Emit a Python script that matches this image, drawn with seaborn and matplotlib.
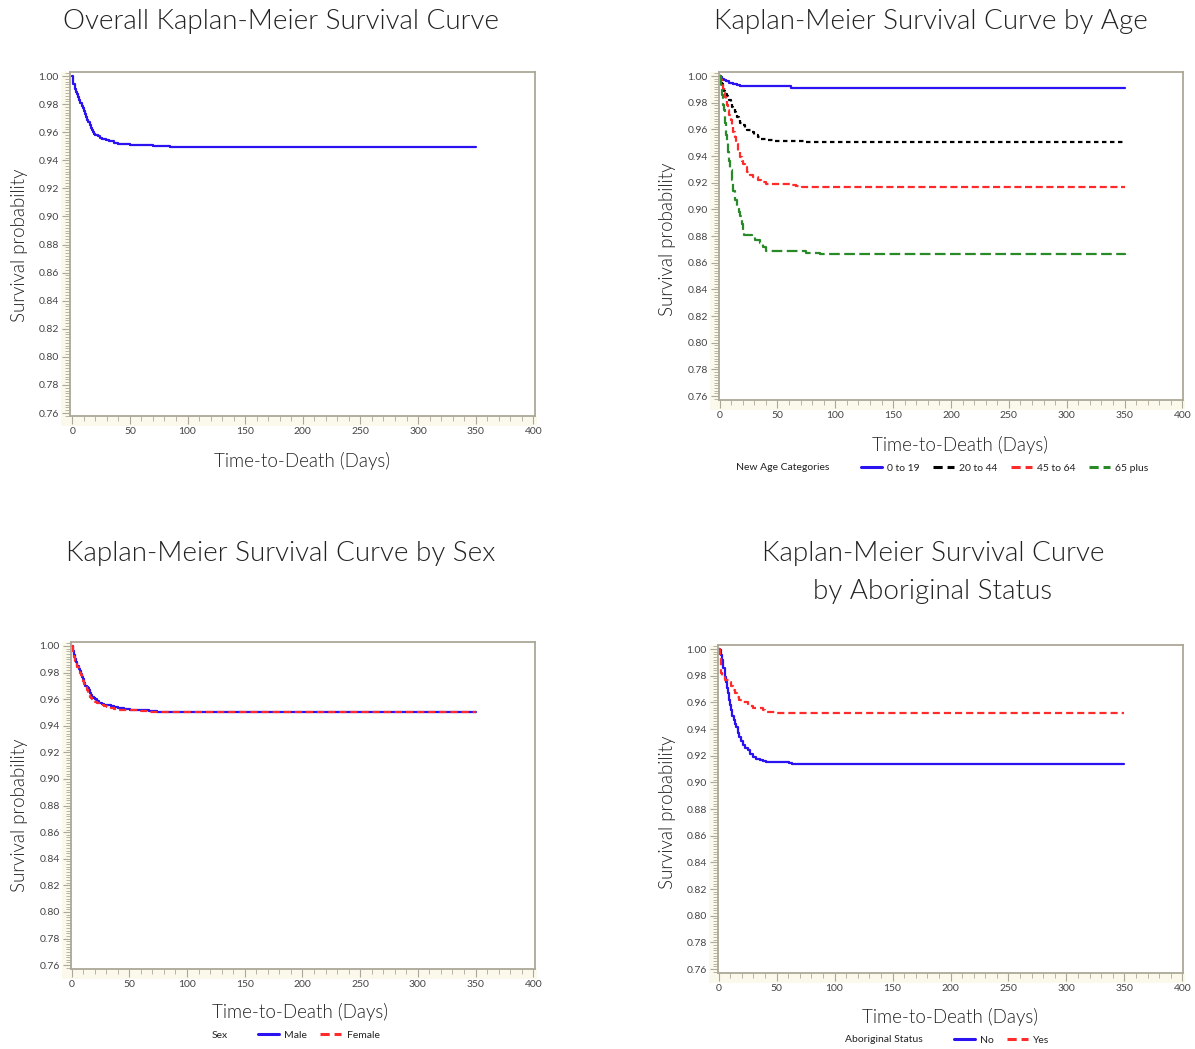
import numpy as np
import pandas as pd
import matplotlib
matplotlib.use("Agg")
import matplotlib.pyplot as plt
from matplotlib.lines import Line2D
from matplotlib.patches import Rectangle
from matplotlib.ticker import MultipleLocator, FormatStrFormatter
from matplotlib import font_manager
import seaborn as sns

# ---------------- data ----------------
overall_t = [0, 0.5, 1, 2, 3, 4, 5, 6, 7, 8, 9, 10, 11, 12, 13, 14, 15, 16, 17, 18, 19, 20,
             22, 24, 26, 29, 32, 36, 40, 45, 50, 60, 70, 85, 350]
overall_s = [1.000, 0.996, 0.994, 0.991, 0.989, 0.987, 0.985, 0.983, 0.981, 0.979, 0.977,
             0.975, 0.973, 0.971, 0.969, 0.967, 0.965, 0.963, 0.9615, 0.960, 0.959, 0.958,
             0.957, 0.956, 0.955, 0.9545, 0.9535, 0.9525, 0.9518, 0.9513, 0.951, 0.9508,
             0.9503, 0.9498, 0.9498]

age_groups = ["0 to 19", "20 to 44", "45 to 64", "65 plus"]
age_0_19_t = [0, 1, 2.3, 4, 5.5, 7, 8.5, 10, 12, 15, 18, 21, 61, 62, 350]
age_0_19_s = [1.000, 0.999, 0.998, 0.997, 0.9965, 0.996, 0.995, 0.9945, 0.994, 0.993,
              0.9926, 0.9922, 0.9922, 0.9913, 0.9913]
age_20_44_t = [0, 1, 2, 3, 4, 5, 6, 7, 8, 9.5, 11, 12, 13, 14, 15, 16.5, 18, 20, 22, 24,
               27, 30, 33, 36, 41, 48, 55, 62, 73, 350]
age_20_44_s = [1.000, 0.997, 0.9943, 0.992, 0.989, 0.9868, 0.985, 0.9835, 0.982, 0.980,
               0.977, 0.975, 0.973, 0.971, 0.969, 0.967, 0.965, 0.963, 0.961, 0.9595,
               0.958, 0.956, 0.9545, 0.953, 0.952, 0.9515, 0.951, 0.951, 0.9504, 0.9504]
age_45_64_t = [0, 1, 2, 3, 4, 4.6, 5.5, 6.5, 7.5, 8.5, 9.5, 10.5, 11.8, 13, 14.5, 16, 17.6,
               19, 20.5, 22, 24, 26, 29, 33, 36, 40.5, 50, 62, 66, 71, 80, 350]
age_45_64_s = [1.000, 0.9967, 0.993, 0.990, 0.987, 0.9843, 0.981, 0.978, 0.9743, 0.971,
               0.967, 0.963, 0.958, 0.954, 0.949, 0.944, 0.9395, 0.9365, 0.934, 0.932,
               0.928, 0.9258, 0.924, 0.922, 0.9205, 0.919, 0.9188, 0.9186, 0.9175, 0.9168,
               0.9165, 0.9165]
age_65_t = [0, 1, 2, 3, 3.5, 4.5, 5.5, 6.3, 7, 8, 9.2, 10.5, 12, 13.5, 15, 16.5, 17.9, 19,
            20, 20.8, 24, 28, 31, 35, 37.5, 39.8, 50, 64, 75, 87, 350]
age_65_s = [1.000, 0.991, 0.9856, 0.978, 0.9743, 0.965, 0.956, 0.9494, 0.943, 0.936,
            0.9295, 0.922, 0.914, 0.907, 0.902, 0.898, 0.8947, 0.889, 0.884, 0.881,
            0.8805, 0.8797, 0.877, 0.8747, 0.872, 0.869, 0.869, 0.8685, 0.8675, 0.8665,
            0.8660]

sex_groups = ["Male", "Female"]
male_t = [0, 1, 2, 3, 4, 5, 6, 7, 8, 9, 10, 11, 12, 13, 14, 15, 16, 17, 18, 19, 20, 22,
          24, 26, 28, 31, 34, 37, 40, 45, 51, 60, 67, 74, 350]
male_s = [1.000, 0.996, 0.993, 0.990, 0.988, 0.985, 0.983, 0.981, 0.979, 0.977, 0.975,
          0.9725, 0.970, 0.969, 0.9685, 0.967, 0.965, 0.963, 0.962, 0.961, 0.960, 0.9585,
          0.9575, 0.9565, 0.956, 0.9555, 0.9548, 0.954, 0.953, 0.9525, 0.952, 0.9515,
          0.951, 0.9505, 0.9502]
female_t = [0, 1, 2, 3, 4, 5, 6, 7, 8, 9, 10, 11, 12, 13, 14, 15, 16, 17, 18, 19, 20, 22,
            24, 26, 28, 31, 34, 37, 40, 45, 51, 60, 67, 74, 350]
female_s = [1.000, 0.995, 0.992, 0.989, 0.987, 0.984, 0.982, 0.980, 0.978, 0.976, 0.974,
            0.9715, 0.969, 0.967, 0.965, 0.9635, 0.962, 0.961, 0.960, 0.959, 0.958, 0.957,
            0.956, 0.9555, 0.955, 0.954, 0.9533, 0.9528, 0.9522, 0.952, 0.9518, 0.9512,
            0.9506, 0.9502, 0.9500]

abor_groups = ["No", "Yes"]
abor_no_t = [0, 1, 2.3, 3, 4, 5.2, 6, 7, 8, 9, 10, 11, 12, 13, 13.9, 15, 16.7, 18, 19.5,
             21, 23, 25.4, 27.5, 29.7, 32, 35.5, 38, 41, 61, 63, 350]
abor_no_s = [1.000, 0.999, 0.9955, 0.992, 0.986, 0.979, 0.975, 0.971, 0.9668, 0.962,
             0.958, 0.954, 0.950, 0.947, 0.944, 0.9415, 0.9368, 0.934, 0.931, 0.928,
             0.926, 0.924, 0.9215, 0.919, 0.9178, 0.9168, 0.916, 0.915, 0.9148, 0.914,
             0.914]
abor_yes_t = [0, 1, 1.7, 2.3, 3, 5.2, 9.5, 11, 12.5, 14, 16, 18, 20, 25.4, 30, 35.5, 38,
              40, 50, 60, 350]
abor_yes_s = [1.000, 0.994, 0.988, 0.982, 0.979, 0.9768, 0.9755, 0.972, 0.969, 0.9668,
              0.964, 0.962, 0.960, 0.957, 0.956, 0.9555, 0.954, 0.9525, 0.9522, 0.952,
              0.9518]

x_ticks = [0, 50, 100, 150, 200, 250, 300, 350, 400]
y_ticks = [0.76, 0.78, 0.80, 0.82, 0.84, 0.86, 0.88, 0.90, 0.92, 0.94, 0.96, 0.98, 1.00]

# ---------------- style ----------------
sns.set_theme(style="white")
plt.rcParams["font.family"] = ["Lato", "DejaVu Sans"]

BLUE = "#2B12F0"
RED = "#FF2A2A"
BLACK = "#000000"
GREEN = "#2A8A2A"
SPINE = "#ABA898"
BEIGE = "#FBF8EC"
TXT = "#222222"

# pick Lato Light (weight 300) if installed, else regular
_weights = sorted({f.weight for f in font_manager.fontManager.ttflist if f.name == "Lato"},
                  key=lambda w: str(w))
TITLE_W = 300 if 300 in _weights or "light" in [str(w).lower() for w in _weights] else "normal"

W, H = 1195, 1049
fig = plt.figure(figsize=(W / 100, H / 100), dpi=100)


def make_axes(left, top, right, bottom):
    return fig.add_axes([left / W, 1 - bottom / H, (right - left) / W, (bottom - top) / H])


def style_axes(ax, xlim, ylim):
    ax.set_xlim(*xlim)
    ax.set_ylim(*ylim)
    ax.xaxis.set_major_locator(plt.FixedLocator(x_ticks))
    ax.yaxis.set_major_locator(plt.FixedLocator(y_ticks))
    ax.xaxis.set_minor_locator(MultipleLocator(10))
    ax.yaxis.set_minor_locator(MultipleLocator(0.002))
    ax.yaxis.set_major_formatter(FormatStrFormatter("%.2f"))
    ax.tick_params(axis="both", which="major", direction="out", length=6, width=0.8,
                   color=SPINE, labelsize=7.5, labelcolor="#444444", pad=2)
    ax.tick_params(axis="both", which="minor", direction="out", length=3.5, width=0.6,
                   color=SPINE)
    ax.tick_params(axis="x", which="both", bottom=True)
    ax.tick_params(axis="y", which="both", left=True)
    for sp in ax.spines.values():
        sp.set_color(SPINE)
        sp.set_linewidth(1.3)
    ax.set_xlabel("")
    ax.set_ylabel("")
    ax.add_patch(Rectangle((0, -0.03), 1.004, 0.03, transform=ax.transAxes,
                           facecolor=BEIGE, edgecolor="none", clip_on=False, zorder=-1))
    ax.add_patch(Rectangle((-0.02, -0.03), 0.02, 1.03, transform=ax.transAxes,
                           facecolor=BEIGE, edgecolor="none", clip_on=False, zorder=-1))


def build_df(groups, ts, ss):
    rows = []
    for g, t, s in zip(groups, ts, ss):
        for ti, si in zip(t, s):
            rows.append((g, ti, si))
    return pd.DataFrame(rows, columns=["group", "time", "surv"])


def draw(ax, df, palette, dashes, lw=1.6):
    for g in df["group"].unique():
        sub = df[df["group"] == g]
        sns.lineplot(data=sub, x="time", y="surv", ax=ax, color=palette[g],
                     drawstyle="steps-post", linewidth=lw, legend=False,
                     dashes=False, estimator=None, sort=False,
                     linestyle=(0, dashes[g]) if dashes[g] else "-")


def legend_row(title, tx, ty, handles, labels, lx):
    fig.text(tx / W, 1 - ty / H, title, fontsize=7.5, color=TXT, va="center", ha="center")
    fig.legend(handles, labels, loc="center left", bbox_to_anchor=(lx / W, 1 - ty / H),
               ncol=len(labels), frameon=False, fontsize=7.5, handlelength=2.0,
               handletextpad=0.5, columnspacing=1.3, borderaxespad=0, borderpad=0,
               labelcolor=TXT)


def title(x, y, s):
    fig.text(x / W, 1 - y / H, s, fontsize=20, ha="center", va="center", color=TXT,
             fontweight=TITLE_W)


def ylab(x, y):
    fig.text(x / W, 1 - y / H, "Survival probability", rotation=90, fontsize=13.5,
             ha="center", va="center", color=TXT, fontweight=TITLE_W)


def xlab(x, y):
    fig.text(x / W, 1 - y / H, "Time-to-Death (Days)", fontsize=13.5,
             ha="center", va="center", color=TXT, fontweight=TITLE_W)


# ---------------- panel 1: overall ----------------
ax1 = make_axes(70, 72, 535, 416)
df1 = build_df(["all"], [overall_t], [overall_s])
draw(ax1, df1, {"all": BLUE}, {"all": None})
style_axes(ax1, (-2, 401.5), (0.7579, 1.0029))
title(281, 21, "Overall Kaplan-Meier Survival Curve")
ylab(20, 245)
xlab(302, 461)

# ---------------- panel 2: age ----------------
ax2 = make_axes(719, 72, 1183, 400)
df2 = build_df(age_groups, [age_0_19_t, age_20_44_t, age_45_64_t, age_65_t],
               [age_0_19_s, age_20_44_s, age_45_64_s, age_65_s])
pal2 = dict(zip(age_groups, [BLUE, BLACK, RED, GREEN]))
dash2 = dict(zip(age_groups, [None, (2.0, 1.6), (3.2, 1.6), (4.8, 2.0)]))
draw(ax2, df2, pal2, dash2)
style_axes(ax2, (-0.5, 400.5), (0.757, 1.003))
title(931, 21, "Kaplan-Meier Survival Curve by Age")
ylab(668, 239)
xlab(960, 445)
h2 = [Line2D([], [], color=pal2[g], lw=2.2,
             linestyle=(0, (3.0, 1.6)) if dash2[g] else "-") for g in age_groups]
legend_row("New Age Categories", 783, 468, h2, age_groups, 861)

# ---------------- panel 3: sex ----------------
ax3 = make_axes(71, 642, 535, 969)
df3 = build_df(sex_groups, [male_t, female_t], [male_s, female_s])
pal3 = {"Male": BLUE, "Female": RED}
dash3 = {"Male": None, "Female": (3.2, 1.8)}
draw(ax3, df3, pal3, dash3)
style_axes(ax3, (-0.5, 401.5), (0.7571, 1.003))
title(281, 554, "Kaplan-Meier Survival Curve by Sex")
ylab(20, 815)
xlab(300, 1012)
h3 = [Line2D([], [], color=pal3[g], lw=2.2,
             linestyle=(0, (3.0, 1.6)) if dash3[g] else "-") for g in sex_groups]
legend_row("Sex", 220, 1035, h3, sex_groups, 258)

# ---------------- panel 4: aboriginal ----------------
ax4 = make_axes(718, 645, 1183, 973)
df4 = build_df(abor_groups, [abor_no_t, abor_yes_t], [abor_no_s, abor_yes_s])
pal4 = {"No": BLUE, "Yes": RED}
dash4 = {"No": None, "Yes": (3.2, 1.8)}
draw(ax4, df4, pal4, dash4)
style_axes(ax4, (-0.5, 400.5), (0.7571, 1.003))
title(933, 554, "Kaplan-Meier Survival Curve")
title(933, 591, "by Aboriginal Status")
ylab(668, 812)
xlab(950, 1017)
h4 = [Line2D([], [], color=pal4[g], lw=2.2,
             linestyle=(0, (3.0, 1.6)) if dash4[g] else "-") for g in abor_groups]
legend_row("Aboriginal Status", 884, 1040, h4, abor_groups, 954)

fig.savefig("out.png", dpi=100, facecolor="white")
